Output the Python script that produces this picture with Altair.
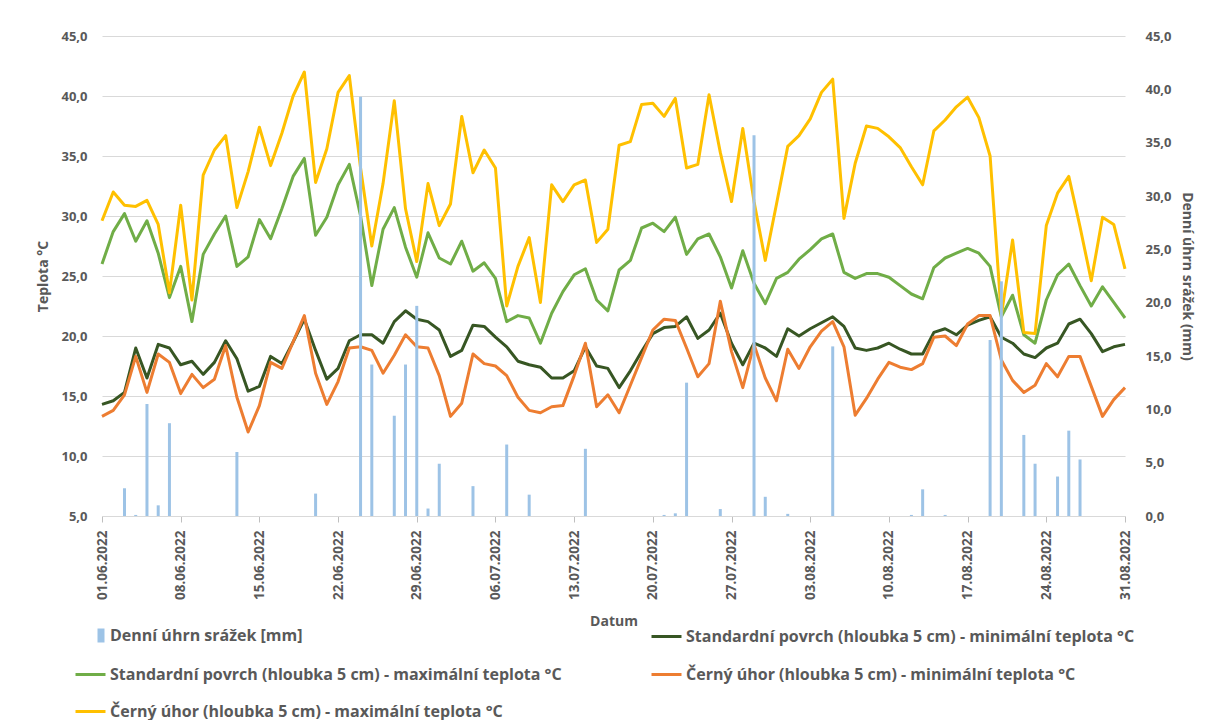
import json
import altair as alt
import pandas as pd

# ---------------- data ----------------
DAYS = list(range(92))  # 01.06.2022 ... 31.08.2022
TICK_DAYS = [0, 7, 14, 21, 28, 35, 42, 49, 56, 63, 70, 77, 84, 91]
TICK_LABELS = ["01.06.2022", "08.06.2022", "15.06.2022", "22.06.2022", "29.06.2022",
               "06.07.2022", "13.07.2022", "20.07.2022", "27.07.2022", "03.08.2022",
               "10.08.2022", "17.08.2022", "24.08.2022", "31.08.2022"]

SERIES_RAIN = "Denní úhrn srážek [mm]"
SERIES_SP_MIN = "Standardní povrch (hloubka 5 cm) - minimální teplota °C"
SERIES_SP_MAX = "Standardní povrch (hloubka 5 cm) - maximální teplota °C"
SERIES_CU_MIN = "Černý úhor (hloubka 5 cm) - minimální teplota °C"
SERIES_CU_MAX = "Černý úhor (hloubka 5 cm) - maximální teplota °C"

RAIN = [0, 0, 2.6, 0.1, 10.5, 1.0, 8.7, 0, 0, 0,
        0, 0, 6.0, 0, 0, 0, 0, 0, 0, 2.1,
        0, 0, 0, 39.3, 14.2, 0, 9.4, 14.2, 19.7, 0.7,
        4.9, 0, 0, 2.8, 0, 0, 6.7, 0, 2.0, 0,
        0, 0, 0, 6.3, 0, 0, 0, 0, 0, 0,
        0.1, 0.25, 12.5, 0, 0, 0.65, 0, 0, 35.7, 1.8,
        0, 0.2, 0, 0, 0, 15.9, 0, 0, 0, 0,
        0, 0, 0.1, 2.5, 0, 0.1, 0, 0, 0, 16.5,
        22.0, 0, 7.6, 4.9, 0, 3.7, 8.0, 5.3, 0, 0,
        0, 0]

SP_MIN = [14.3, 14.6, 15.3, 19.0, 16.5, 19.3, 19.0, 17.6, 17.9, 16.8,
          17.8, 19.6, 18.1, 15.4, 15.8, 18.3, 17.7, 19.5, 21.4, 18.8,
          16.4, 17.3, 19.6, 20.1, 20.1, 19.4, 21.2, 22.1, 21.4, 21.2,
          20.5, 18.3, 18.8, 20.9, 20.8, 19.9, 19.1, 17.9, 17.6, 17.4,
          16.5, 16.5, 17.1, 19.1, 17.5, 17.3, 15.7, 17.1, 18.7, 20.2,
          20.7, 20.8, 21.6, 19.8, 20.5, 21.9, 19.4, 17.6, 19.4, 19.0,
          18.3, 20.6, 20.0, 20.6, 21.1, 21.6, 20.8, 19.0, 18.8, 19.0,
          19.4, 18.9, 18.5, 18.5, 20.3, 20.6, 20.1, 20.9, 21.3, 21.6,
          19.9, 19.4, 18.5, 18.2, 19.0, 19.4, 21.0, 21.4, 20.2, 18.7,
          19.1, 19.3]

SP_MAX = [26.0, 28.7, 30.2, 27.9, 29.6, 26.9, 23.2, 25.8, 21.2, 26.8,
          28.5, 30.0, 25.8, 26.6, 29.7, 28.1, 30.6, 33.3, 34.8, 28.4,
          29.9, 32.6, 34.3, 30.0, 24.2, 28.9, 30.7, 27.4, 24.9, 28.6,
          26.5, 26.0, 27.9, 25.4, 26.1, 24.8, 21.2, 21.7, 21.5, 19.4,
          21.9, 23.7, 25.1, 25.6, 23.0, 22.1, 25.5, 26.3, 29.0, 29.4,
          28.7, 29.9, 26.8, 28.1, 28.5, 26.6, 24.0, 27.1, 24.4, 22.7,
          24.8, 25.3, 26.4, 27.2, 28.1, 28.5, 25.3, 24.8, 25.2, 25.2,
          24.9, 24.2, 23.5, 23.1, 25.7, 26.5, 26.9, 27.3, 26.9, 25.8,
          21.6, 23.4, 20.1, 19.4, 23.0, 25.1, 26.0, 24.2, 22.5, 24.1,
          22.8, 21.5]

CU_MIN = [13.3, 13.8, 15.1, 18.3, 15.3, 18.5, 17.8, 15.2, 16.8, 15.7,
          16.4, 19.2, 14.9, 12.0, 14.2, 17.8, 17.3, 19.5, 21.7, 16.9,
          14.3, 16.2, 19.0, 19.1, 18.8, 16.9, 18.4, 20.1, 19.1, 19.0,
          16.7, 13.3, 14.4, 18.5, 17.7, 17.5, 16.7, 14.9, 13.8, 13.6,
          14.1, 14.2, 16.7, 19.4, 14.1, 15.1, 13.6, 15.9, 18.2, 20.5,
          21.4, 21.3, 19.0, 16.6, 17.7, 22.9, 18.7, 15.7, 19.3, 16.5,
          14.6, 18.9, 17.3, 19.1, 20.4, 21.2, 19.1, 13.4, 14.8, 16.4,
          17.8, 17.4, 17.2, 17.7, 19.9, 20.0, 19.2, 21.0, 21.7, 21.7,
          18.0, 16.3, 15.3, 15.9, 17.7, 16.6, 18.3, 18.3, 15.8, 13.3,
          14.7, 15.7]

CU_MAX = [29.6, 32.0, 30.9, 30.8, 31.3, 29.3, 23.6, 30.9, 23.0, 33.4,
          35.5, 36.7, 30.7, 33.7, 37.4, 34.2, 36.9, 40.0, 42.0, 32.8,
          35.6, 40.3, 41.7, 34.0, 27.5, 32.7, 39.6, 30.6, 26.2, 32.7,
          29.2, 31.0, 38.3, 33.6, 35.5, 34.0, 22.5, 25.8, 28.2, 22.8,
          32.6, 31.2, 32.6, 33.0, 27.8, 28.9, 35.9, 36.2, 39.3, 39.4,
          38.3, 39.8, 34.0, 34.3, 40.1, 35.3, 31.2, 37.3, 31.2, 26.3,
          31.0, 35.8, 36.7, 38.1, 40.3, 41.4, 29.8, 34.4, 37.5, 37.3,
          36.6, 35.7, 34.1, 32.6, 37.1, 38.0, 39.1, 39.9, 38.2, 35.0,
          21.7, 28.0, 20.3, 20.2, 29.2, 31.9, 33.3, 29.1, 24.6, 29.9,
          29.3, 25.6]

# ---------------- style ----------------
FONT = "Open Sans"
TXT = "#595959"
GRID = "#d9d9d9"
C_RAIN = "#9dc3e6"
C_SP_MIN = "#375623"
C_SP_MAX = "#70ad47"
C_CU_MIN = "#ed7d31"
C_CU_MAX = "#ffc000"

comma_expr = "replace(format(datum.value, '.1f'), '.', ',')"
x_label_expr = json.dumps(TICK_LABELS) + "[round(datum.value / 7)]"

x_enc = alt.X(
    "day:Q",
    scale=alt.Scale(domain=[0, 91], nice=False, zero=False, padding=0),
    axis=alt.Axis(
        values=TICK_DAYS, labelExpr=x_label_expr, labelAngle=-90,
        labelFont=FONT, labelFontSize=13.5, labelFontWeight="bold", labelColor=TXT,
        labelPadding=8, ticks=True, tickSize=6, tickColor="#bfbfbf",
        domain=True, domainColor=GRID, grid=False,
        title="Datum", titleFont=FONT, titleFontSize=14, titleFontWeight="bold",
        titleColor=TXT, titlePadding=15,
    ),
)

y_left = alt.Y(
    "value:Q",
    scale=alt.Scale(domain=[5, 45], nice=False, zero=False),
    axis=alt.Axis(
        orient="left", values=list(range(5, 50, 5)), labelExpr=comma_expr,
        labelFont=FONT, labelFontSize=13, labelFontWeight="bold", labelColor=TXT,
        labelPadding=15, ticks=False, domain=False, grid=True, gridColor=GRID,
        gridWidth=1, title="Teplota °C", titleFont=FONT, titleFontSize=14,
        titleFontWeight="bold", titleColor=TXT, titlePadding=10,
    ),
)

y_right = alt.Y(
    "precip:Q",
    scale=alt.Scale(domain=[0, 45], nice=False, zero=True),
    axis=alt.Axis(
        orient="right", values=list(range(0, 50, 5)), labelExpr=comma_expr,
        labelFont=FONT, labelFontSize=13, labelFontWeight="bold", labelColor=TXT,
        labelPadding=20, ticks=False, domain=False, grid=False,
        title="Denní úhrn srážek (mm)", titleFont=FONT, titleFontSize=14,
        titleFontWeight="bold", titleColor=TXT, titlePadding=8,
    ),
)


def legend(lx, ly, sym_type, sym_size, offset):
    return alt.Legend(
        orient="none", legendX=lx, legendY=ly, title=None, padding=0,
        symbolType=sym_type, symbolSize=sym_size, symbolStrokeWidth=3,
        labelFont=FONT, labelFontSize=16, labelFontWeight="bold",
        labelColor=TXT, labelLimit=800, labelOffset=offset,
    )


def line_layer(name, values, color, lx, ly):
    df = pd.DataFrame({"day": DAYS, "value": values, "series": name})
    return alt.Chart(df).mark_line(strokeWidth=3, strokeJoin="round").encode(
        x=x_enc,
        y=y_left,
        color=alt.Color("series:N", scale=alt.Scale(domain=[name], range=[color]),
                        legend=legend(lx, ly, "stroke", 900, 3)),
    )


lines = alt.layer(
    line_layer(SERIES_SP_MIN, SP_MIN, C_SP_MIN, 548, 584),
    line_layer(SERIES_SP_MAX, SP_MAX, C_SP_MAX, -28, 622),
    line_layer(SERIES_CU_MIN, CU_MIN, C_CU_MIN, 548, 622),
    line_layer(SERIES_CU_MAX, CU_MAX, C_CU_MAX, -28, 659),
).resolve_scale(color="independent")

rain_df = pd.DataFrame({"day": DAYS, "precip": RAIN, "series": SERIES_RAIN})
bars = alt.Chart(rain_df).mark_bar(size=3).encode(
    x=x_enc,
    y=y_right,
    color=alt.Color("series:N", scale=alt.Scale(domain=[SERIES_RAIN], range=[C_RAIN]),
                    legend=legend(-9.5, 591, "M-0.5,-1H0.5V1H-0.5Z", 196, 0.5)),
)

chart = alt.layer(lines, bars).resolve_scale(
    y="independent", color="independent"
).properties(
    width=1023,
    height=480,
    autosize=alt.AutoSizeParams(type="none"),
    padding={"left": 94, "top": 28, "right": 72, "bottom": 204},
).configure_view(strokeWidth=0)

chart.save("out.html", embed_options={"renderer": "svg", "actions": False})
